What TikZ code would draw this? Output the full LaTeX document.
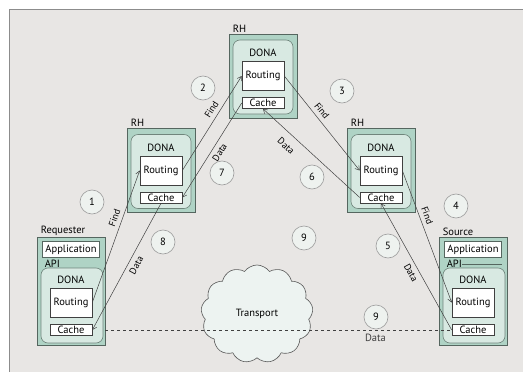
\documentclass[tikz,border=0pt]{standalone}
\usepackage{fontspec}
\setmainfont{PT Sans}
\usepackage{xcolor}
\usetikzlibrary{shapes.symbols}
\usetikzlibrary{arrows.meta}
\definecolor{bgcol}{HTML}{E8E6E4}
\definecolor{panelline}{HTML}{8C8C8C}
\definecolor{hostfill}{HTML}{AFD3C5}
\definecolor{hostline}{HTML}{55665F}
\definecolor{donafill}{HTML}{D8E9E2}
\definecolor{donaline}{HTML}{70857C}
\definecolor{numfill}{HTML}{EEF2EF}
\definecolor{numline}{HTML}{9C9C9C}
\definecolor{cloudfill}{HTML}{EDF3F1}

\begin{document}
\begin{tikzpicture}[x=1pt,y=-1pt,line width=0.6pt,font=\fontsize{10.5}{11}\selectfont,
  host/.style={draw=hostline,fill=hostfill,minimum width=68pt,inner sep=0pt,line width=0.9pt},
  dona/.style={draw=donaline,fill=donafill,rounded corners=7pt,inner sep=0pt},
  func/.style={draw=black!75,fill=white,minimum width=42pt,inner sep=0pt},
  num/.style={circle,draw=numline,fill=numfill,minimum size=24pt,inner sep=0pt},
  msg/.style={draw=black!75,line width=0.5pt,-{Straight Barb[length=4pt,width=5pt]}},
  lbl/.style={font=\fontsize{9.5}{10}\selectfont,sloped,inner sep=4pt}]
\useasboundingbox (0,0) rectangle (523,372);
\fill[white] (0,0) rectangle (523,372);
\draw[panelline,fill=bgcol,line width=1.5pt] (9.5,9.5) rectangle (540,390);

% resolution handlers
\foreach \n/\x/\y in {a/161/170.5,b/263/76,c/381/170.5}{
  \node[host,minimum height=84pt] (rh\n) at (\x,\y) {};
  \node[anchor=south west,inner sep=1pt] at ([xshift=3pt]rh\n.north west) {RH};
  \node[dona,minimum width=60pt,minimum height=74pt] at ([yshift=-1pt]rh\n) {};
  \node at ([yshift=23pt]rh\n) {DONA};
  \node[func,minimum height=29pt] (r\n) at (rh\n) {Routing};
  \node[func,minimum height=11pt] (c\n) at ([yshift=-27pt]rh\n) {Cache};
}

% end hosts
\foreach \n/\x/\t in {q/71/Requester,s/473/Source}{
  \node[host,minimum height=108pt] (h\n) at (\x,291) {};
  \node[anchor=south west,inner sep=1pt] at ([xshift=3pt]h\n.north west) {\t};
  \node[func,draw=hostline,minimum width=57pt,minimum height=16pt] (app\n) at ([yshift=41.5pt]h\n) {Application};
  \node[anchor=west,inner sep=0pt] (api\n) at ([xshift=8pt,yshift=27pt]h\n.west) {API};
  \node[dona,minimum width=62pt,minimum height=75pt] at ([xshift=1pt,yshift=-14.5pt]h\n) {};
  \node at ([yshift=11pt]h\n) {DONA};
  \node[func,minimum height=29pt] (r\n) at ([yshift=-11.5pt]h\n) {Routing};
  \node[func,minimum height=11pt] (c\n) at ([yshift=-39pt]h\n) {Cache};
}
\draw[hostline] (apis.east) -- (apis.east -| apps.east);

\node[cloud,cloud puffs=13,cloud puff arc=110,aspect=1.1,draw=black!65,fill=cloudfill,
  minimum width=112pt,minimum height=98pt] (tp) at (257,314) {Transport};

% step numbers
\foreach \m/\k/\x/\y in {1/1/92/202,2/2/203/88,3/3/342/91,4/4/456/206,5/5/388/246,
  6/6/312/177,7/7/222/173,8/8/163/242,9/9/304/238,10/9/376/317}
  \node[num] (n\m) at (\x,\y) {\k};

% find
\draw[msg] (rq.east) -- node[lbl,above,pos=0.62] {Find} (ra.west);
\draw[msg] (ra.east) -- node[lbl,above,pos=0.6] {Find} (rb.west);
\draw[msg] (rb.east) -- node[lbl,above,pos=0.42] {Find} (rc.west);
\draw[msg] (rc.east) -- node[lbl,above,pos=0.36] {Find} (rs.west);
% data
\draw[msg] (cs.west) -- node[lbl,below,pos=0.48] {Data} (cc.south);
\draw[msg] (cc.west) -- node[lbl,below,pos=0.68,inner sep=8pt] {Data} (cb.south);
\draw[msg] (cb.west) -- node[lbl,below,pos=0.48] {Data} (ca.east);
\draw[msg] (ca.south) -- node[lbl,below,pos=0.46] {Data} (cq.east);
\draw[dashed,black!75] (hq.east |- cq) -- node[below,pos=0.78] {Data} (cs.west);
\end{tikzpicture}
\end{document}
